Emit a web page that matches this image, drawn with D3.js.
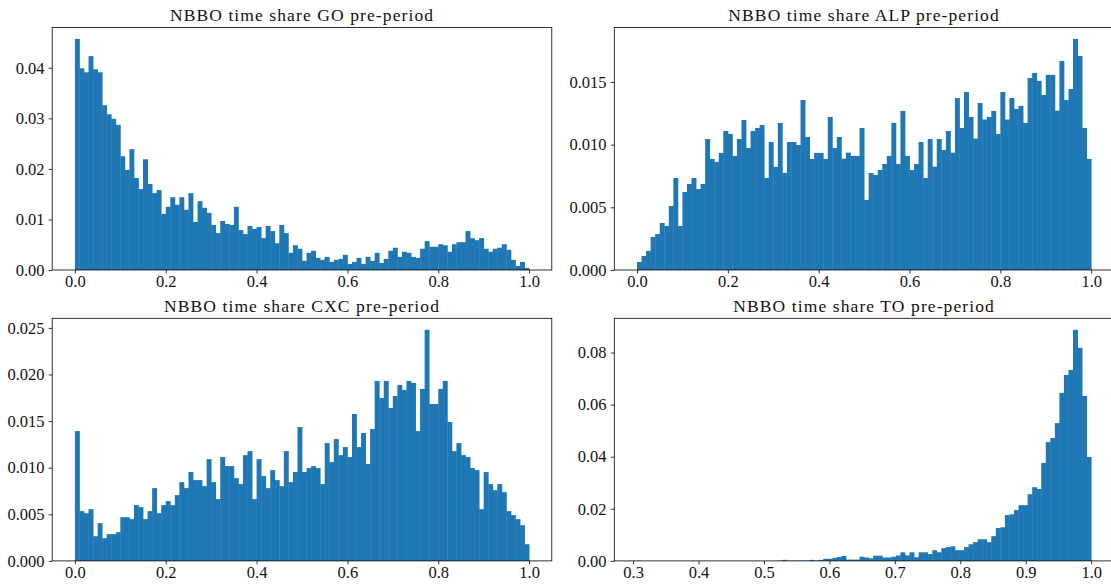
<!DOCTYPE html>
<html>
<head>
<meta charset="utf-8">
<script src="https://cdn.jsdelivr.net/npm/d3@7"></script>
<style>
  body { margin: 0; background: #fff; }
  svg { display: block; }
  text { font-family: "Liberation Serif", "Times New Roman", serif; fill: #111; }
</style>
</head>
<body>
<svg id="chart" width="1111" height="586"></svg>
<script>
// histogram heights, 100 bins per venue
const titles = [
  "NBBO time share GO pre-period",
  "NBBO time share ALP pre-period",
  "NBBO time share CXC pre-period",
  "NBBO time share TO pre-period"
];

const goShares = [
  0.0457, 0.0399, 0.0391, 0.0423, 0.0397, 0.0391, 0.0326, 0.0308, 0.0299, 0.0287,
  0.0225, 0.0198, 0.0239, 0.0182, 0.0160, 0.0219, 0.0170, 0.0152, 0.0158, 0.0111,
  0.0125, 0.0144, 0.0129, 0.0144, 0.0119, 0.0152, 0.0095, 0.0136, 0.0123, 0.0113,
  0.0089, 0.0073, 0.0097, 0.0091, 0.0089, 0.0125, 0.0079, 0.0071, 0.0087, 0.0081,
  0.0085, 0.0063, 0.0087, 0.0077, 0.0053, 0.0089, 0.0073, 0.0034, 0.0049, 0.0042,
  0.0018, 0.0034, 0.0038, 0.0024, 0.0020, 0.0026, 0.0016, 0.0020, 0.0022, 0.0030,
  0.0012, 0.0016, 0.0024, 0.0012, 0.0026, 0.0018, 0.0034, 0.0014, 0.0022, 0.0038,
  0.0044, 0.0026, 0.0036, 0.0034, 0.0026, 0.0024, 0.0042, 0.0057, 0.0046, 0.0046,
  0.0051, 0.0049, 0.0036, 0.0051, 0.0055, 0.0055, 0.0077, 0.0063, 0.0059, 0.0063,
  0.0042, 0.0036, 0.0042, 0.0044, 0.0051, 0.0040, 0.0020, 0.0008, 0.0016, 0.0004
];

const alpShares = [
  0.00064, 0.00112, 0.00152, 0.00263, 0.00287, 0.00375, 0.00351, 0.00511, 0.00734, 0.00351,
  0.00622, 0.00686, 0.00734, 0.00646, 0.00686, 0.01045, 0.00886, 0.00862, 0.00934, 0.01109,
  0.01085, 0.00910, 0.01045, 0.01197, 0.00973, 0.01109, 0.01133, 0.01157, 0.00734, 0.01021,
  0.00822, 0.01173, 0.00774, 0.01021, 0.01021, 0.00997, 0.01356, 0.01061, 0.00886, 0.00934,
  0.00934, 0.00886, 0.01221, 0.00973, 0.01061, 0.00888, 0.00936, 0.00910, 0.00910, 0.01133,
  0.00559, 0.00774, 0.00758, 0.00798, 0.00846, 0.00910, 0.01173, 0.00846, 0.01269, 0.00910,
  0.00798, 0.00846, 0.01021, 0.00734, 0.01045, 0.00824, 0.01045, 0.00957, 0.01109, 0.00936,
  0.01372, 0.01133, 0.01420, 0.01221, 0.01048, 0.01332, 0.01200, 0.01221, 0.01269, 0.01085,
  0.01420, 0.01200, 0.01372, 0.01285, 0.01309, 0.01173, 0.01532, 0.01572, 0.01508, 0.01396,
  0.01556, 0.01556, 0.01271, 0.01668, 0.01356, 0.01444, 0.01843, 0.01707, 0.01133, 0.00886
];

const cxcShares = [
  0.01393, 0.00534, 0.00512, 0.00555, 0.00265, 0.00405, 0.00244, 0.00287, 0.00287, 0.00308,
  0.00469, 0.00469, 0.00448, 0.00598, 0.00577, 0.00448, 0.00534, 0.00781, 0.00512, 0.00598,
  0.00641, 0.00598, 0.00706, 0.00845, 0.00781, 0.00953, 0.00867, 0.00867, 0.00802, 0.01092,
  0.00845, 0.00663, 0.01114, 0.01017, 0.01017, 0.00888, 0.00824, 0.01135, 0.01178, 0.00663,
  0.01092, 0.00910, 0.00781, 0.00974, 0.00867, 0.00802, 0.01178, 0.00845, 0.00953, 0.01436,
  0.00953, 0.00996, 0.01017, 0.00996, 0.00824, 0.01264, 0.01060, 0.01307, 0.01135, 0.01221,
  0.01114, 0.01576, 0.01221, 0.01372, 0.01039, 0.01415, 0.01931, 0.01748, 0.01931, 0.01640,
  0.01769, 0.01888, 0.01834, 0.01931, 0.01909, 0.01393, 0.01845, 0.02479, 0.01683, 0.01683,
  0.01845, 0.01931, 0.01490, 0.01178, 0.01264, 0.01135, 0.01114, 0.00996, 0.00974, 0.00555,
  0.00953, 0.00824, 0.00759, 0.00824, 0.00738, 0.00534, 0.00491, 0.00448, 0.00383, 0.00179
];

const toShares = [
  0.0001, 0, 0, 0, 0, 0, 0, 0, 0, 0,
  0, 0, 0, 0, 0, 0, 0, 0, 0, 0,
  0, 0, 0, 0, 0, 0, 0, 0, 0, 0,
  0, 0.0001, 0.0004, 0.0001, 0.0001, 0.0001, 0.0001, 0.0001, 0.0004, 0.0001,
  0.0004, 0.0008, 0.0008, 0.00115, 0.0015, 0.0019, 0.0005, 0.0005, 0.0005, 0.0016,
  0.0013, 0.0010, 0.0020, 0.0020, 0.0013, 0.0013, 0.0016, 0.0021, 0.0033, 0.0021,
  0.0033, 0.0014, 0.0033, 0.0033, 0.0026, 0.0041, 0.0033, 0.0049, 0.0053, 0.0056,
  0.0041, 0.0041, 0.0053, 0.0064, 0.0072, 0.0083, 0.0083, 0.0072, 0.0095, 0.0126,
  0.0129, 0.0176, 0.0179, 0.0195, 0.0214, 0.0214, 0.0256, 0.0283, 0.0276, 0.0376,
  0.0456, 0.0472, 0.0529, 0.0645, 0.0714, 0.0733, 0.0887, 0.0818, 0.0633, 0.0399
];

// data range that the bins cover
const fullRange = [0, 1];
const toRange = [0.306, 1];

const xTicksFull = [0, 0.2, 0.4, 0.6, 0.8, 1.0];
const xTicksTO = [0.3, 0.4, 0.5, 0.6, 0.7, 0.8, 0.9, 1.0];
const yTicksGO = [0, 0.01, 0.02, 0.03, 0.04];
const yTicksALP = [0, 0.005, 0.010, 0.015];
const yTicksCXC = [0, 0.005, 0.010, 0.015, 0.020, 0.025];
const yTicksTO = [0, 0.02, 0.04, 0.06, 0.08];

const panels = [
  { title: titles[0], values: goShares, range: fullRange, xTicks: xTicksFull, xFmt: ".1f", yTicks: yTicksGO, yFmt: ".2f" },
  { title: titles[1], values: alpShares, range: fullRange, xTicks: xTicksFull, xFmt: ".1f", yTicks: yTicksALP, yFmt: ".3f" },
  { title: titles[2], values: cxcShares, range: fullRange, xTicks: xTicksFull, xFmt: ".1f", yTicks: yTicksCXC, yFmt: ".3f" },
  { title: titles[3], values: toShares, range: toRange, xTicks: xTicksTO, xFmt: ".1f", yTicks: yTicksTO, yFmt: ".2f" }
];

// layout of the 2x2 grid
const cells = [
  { left: 52.2, top: 27.4 },
  { left: 614.3, top: 27.4 },
  { left: 52.2, top: 318.3 },
  { left: 614.3, top: 318.3 }
];
const plotW = 499.6;
const plotH = 242.6;
const barColor = "#1f77b4";
const fontSize = 16.5;

const svg = d3.select("#chart");

const drawPanel = (p, cell) => {
  const [lo, hi] = p.range;
  const pad = (hi - lo) * 0.05;
  const n = p.values.length;
  const step = (hi - lo) / n;

  const x = d3.scaleLinear().domain([lo - pad, hi + pad]).range([0, plotW]);
  const y = d3.scaleLinear().domain([0, d3.max(p.values) * 1.05]).range([plotH, 0]);

  const g = svg.append("g").attr("transform", `translate(${cell.left},${cell.top})`);

  g.append("g")
    .selectAll("rect")
    .data(p.values)
    .join("rect")
    .attr("x", (d, i) => x(lo + i * step))
    .attr("width", (d, i) => x(lo + (i + 1) * step) - x(lo + i * step) + 0.4)
    .attr("y", d => y(d))
    .attr("height", d => plotH - y(d))
    .attr("fill", barColor);

  const xAxis = g.append("g")
    .attr("transform", `translate(0,${plotH})`)
    .call(d3.axisBottom(x).tickValues(p.xTicks).tickFormat(d3.format(p.xFmt)).tickSize(3.5).tickPadding(2.2));

  const yAxis = g.append("g")
    .call(d3.axisLeft(y).tickValues(p.yTicks).tickFormat(d3.format(p.yFmt)).tickSize(3.5).tickPadding(4.2));

  [xAxis, yAxis].forEach(a => {
    a.attr("font-family", null).attr("font-size", null);
    a.select(".domain").remove();
    a.selectAll("line").attr("stroke", "#000").attr("stroke-width", 0.8);
    a.selectAll("text")
      .attr("fill", "#111")
      .style("font-size", fontSize + "px");
  });

  // frame
  g.append("rect")
    .attr("width", plotW)
    .attr("height", plotH)
    .attr("fill", "none")
    .attr("stroke", "#000")
    .attr("stroke-width", 0.8);

  g.append("text")
    .attr("x", plotW / 2)
    .attr("y", -6.4)
    .attr("text-anchor", "middle")
    .style("font-size", "17.5px")
    .style("letter-spacing", "1.1px")
    .text(p.title);
};

panels.forEach((p, i) => drawPanel(p, cells[i]));
</script>
</body>
</html>
